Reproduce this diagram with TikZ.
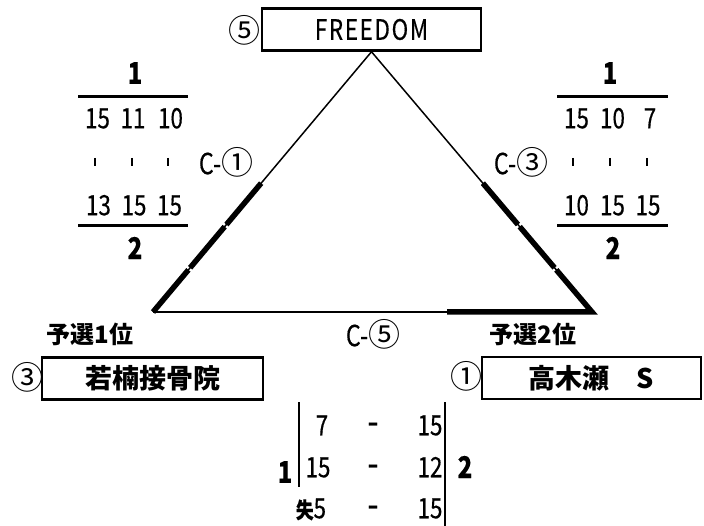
\documentclass[tikz,border=0pt]{standalone}
\usepackage{fontspec}
\setmainfont{Noto Sans CJK JP}
\newfontfamily\cnd{Noto Sans CJK JP}[FakeStretch=0.8,FakeBold=0.4]
\newfontfamily\wide{Noto Sans CJK JP}[FakeStretch=0.8,FakeBold=0.4,LetterSpace=6]
\usetikzlibrary{calc}
\begin{document}
\begin{tikzpicture}[x=1pt,y=-1pt,
  num/.style={font=\cnd\fontsize{28}{28}\selectfont, inner sep=0pt, text height=20.5pt, text depth=0pt},
  bnum/.style={font=\cnd\bfseries\fontsize{30}{30}\selectfont, inner sep=0pt},
  jp/.style={font=\bfseries\fontsize{24}{24}\selectfont, inner sep=0pt},
  circ/.style={font=\fontsize{32}{32}\selectfont, inner sep=0pt},
  dashtxt/.style={num, font=\cnd\fontsize{40}{40}\selectfont},
  team/.style={draw, line width=2.5pt, inner sep=0pt, minimum height=42pt},
  thinside/.style={line width=1.5pt},
  base/.style={line width=2.3pt},
  win/.style={line width=5.5pt},
  rule/.style={line width=3pt},
  tickmark/.style={line width=2pt},
  bar/.style={line width=2.5pt}]
\fill[white] (0,0) rectangle (704,526);
\useasboundingbox (0,0) rectangle (704,526);

% team boxes
\node[team, minimum width=219pt, font=\wide\fontsize{28}{28}\selectfont] (fr) at (371.5,29.5) {FREEDOM};
\node[team, minimum width=221pt, font=\bfseries\fontsize{27}{27}\selectfont] (wk) at (152.5,378.5) {若楠接骨院};
\node[team, minimum width=219pt, font=\bfseries\fontsize{27}{27}\selectfont] (tk) at (591.5,378) {高木瀬　S};
\node[circ] (c5) at (244.5,30) {⑤};
\node[circ] (c3) at (27,377) {③};
\node[circ] (c1) at (466,376) {①};

% triangle
\coordinate (A) at (fr.south);
\coordinate (L) at (153,312);
\coordinate (R) at (592,312);
\draw[thinside] (L) -- (A) -- (R);
\draw[base] (L) -- (R);
\draw[win] ($(A)!0.505!(L)$) -- ($(A)!0.664!(L)$);
\draw[win] ($(A)!0.672!(L)$) -- ($(A)!0.830!(L)$);
\draw[win] ($(A)!0.838!(L)$) -- (L);
\draw[win] ($(A)!0.505!(R)$) -- ($(A)!0.664!(R)$);
\draw[win] ($(A)!0.672!(R)$) -- ($(A)!0.830!(R)$);
\draw[win, line join=miter] ($(A)!0.838!(R)$) -- (R) -- ($(L)!0.67!(R)$);

% left score
\node[bnum] (l1) at (135,73) {1};
\draw[rule] (78,97) -- (188,97);
\node[num] (la1) at (97.5,118) {15};
\node[num] (la2) at (133,118) {11};
\node[num] (la3) at (170.5,118) {10};
\draw[tickmark] (95,158) -- (95,166);
\draw[tickmark] (131.5,158) -- (131.5,166);
\draw[tickmark] (167.5,158) -- (167.5,166);
\node[num] (lb1) at (98.5,205) {13};
\node[num] (lb2) at (134,205) {15};
\node[num] (lb3) at (169.5,205) {15};
\draw[rule] (78,226) -- (188,226);
\node[bnum] (l2) at (135,248) {2};
\node[circ] (cl) at (226,162) {{\cnd\fontsize{29}{29}\selectfont C-}①};

% right score
\node[bnum] (r1) at (610,73) {1};
\draw[rule] (557,97) -- (668,97);
\node[num] (ra1) at (576.5,118) {15};
\node[num] (ra2) at (612.5,118) {10};
\node[num] (ra3) at (650,118) {7};
\draw[tickmark] (573,158) -- (573,166);
\draw[tickmark] (610,158) -- (610,166);
\draw[tickmark] (647,158) -- (647,166);
\node[num] (rb1) at (576.5,205) {10};
\node[num] (rb2) at (612.5,205) {15};
\node[num] (rb3) at (648,205) {15};
\draw[rule] (557,226) -- (668,226);
\node[bnum] (r2) at (613,248) {2};
\node[circ] (cr) at (521,162) {{\cnd\fontsize{29}{29}\selectfont C-}③};

% bottom labels
\node[jp] (y1) at (90,334) {予選1位};
\node[jp] (y2) at (533,334) {予選2位};
\node[circ] (cb) at (373,334) {{\cnd\fontsize{29}{29}\selectfont C-}⑤};

% bottom score
\draw[bar] (299,402) -- (299,487);
\draw[bar] (445,402) -- (445,526);
\node[bnum] (b1) at (285,472) {1};
\node[bnum] (b2) at (465,467) {2};
\node[num] (s1a) at (322,425) {7};
\node[dashtxt] (s1b) at (373,425) {-};
\node[num] (s1c) at (430,425) {15};
\node[num] (s2a) at (318,467) {15};
\node[dashtxt] (s2b) at (373,467) {-};
\node[num] (s2c) at (430,467) {12};
\node[num] (s3a) at (311,508) {{\fontsize{22}{22}\selectfont\bfseries 失}5};
\node[dashtxt] (s3b) at (373,508) {-};
\node[num] (s3c) at (430,508) {15};
\end{tikzpicture}
\end{document}
